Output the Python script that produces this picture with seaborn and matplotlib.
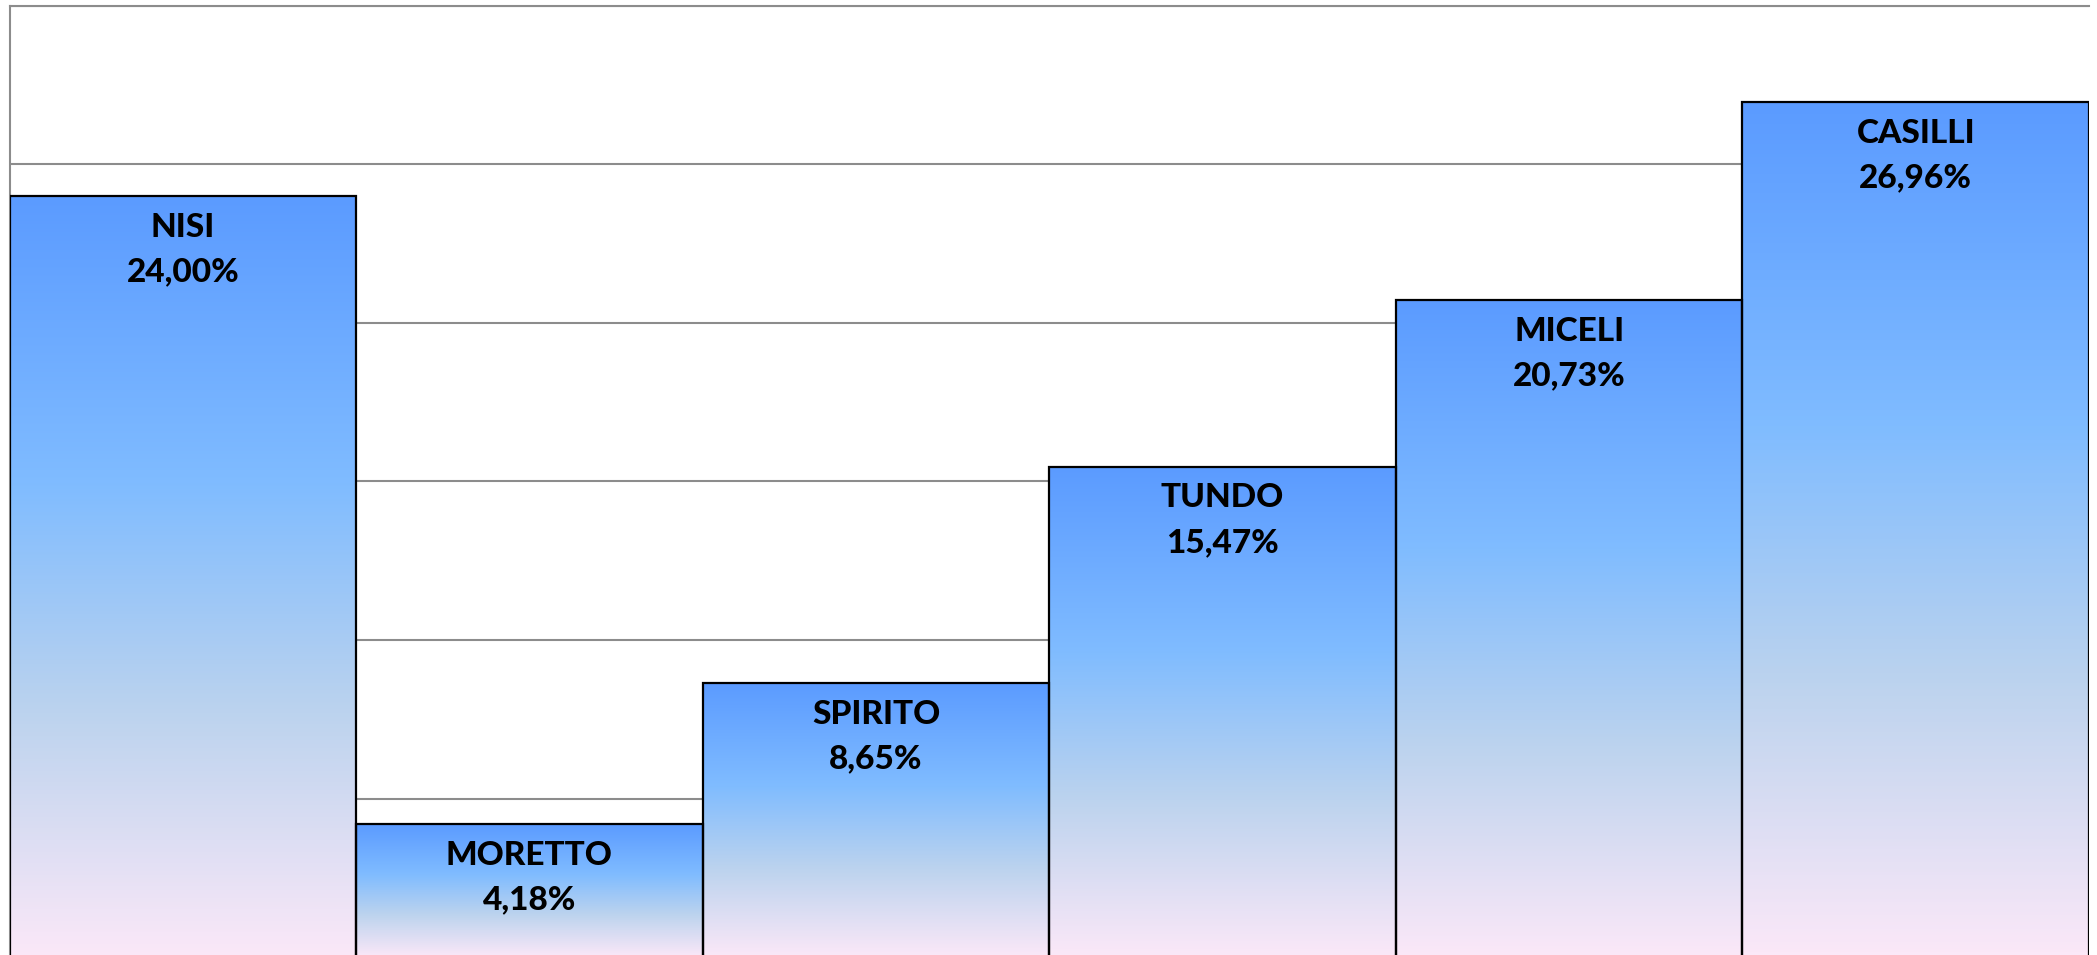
import numpy as np
import matplotlib
matplotlib.use("Agg")
import matplotlib.pyplot as plt
from matplotlib.colors import LinearSegmentedColormap
import seaborn as sns

# --- Data ---
candidates = ["NISI", "MORETTO", "SPIRITO", "TUNDO", "MICELI", "CASILLI"]
shares = [24.00, 4.18, 8.65, 15.47, 20.73, 26.96]

# --- Style ---
sns.set_theme(style="white")
plt.rcParams["font.family"] = ["Lato", "DejaVu Sans"]

grad = LinearSegmentedColormap.from_list(
    "daybreak",
    [(0.0, "#5b9bff"), (0.38, "#80bcff"), (0.68, "#bcd3ee"), (1.0, "#fbe8f8")],
)

fig = plt.figure(figsize=(20.97, 9.55), dpi=100)
ax = fig.add_axes([9.5 / 2097, -2 / 955, (2089 - 9.5) / 2097, (957 - 6) / 955])

sns.barplot(x=candidates, y=shares, width=1.0, ax=ax, color="#5b9bff",
            edgecolor="black", linewidth=1.6, zorder=3)

# gradient fill, one full gradient per bar
g = np.linspace(0, 1, 256).reshape(-1, 1)
for p in ax.patches:
    x0, y0 = p.get_x(), p.get_y()
    w, h = p.get_width(), p.get_height()
    im = ax.imshow(g, cmap=grad, aspect="auto", extent=(x0, x0 + w, y0, y0 + h),
                   origin="upper", zorder=3.5, interpolation="bilinear")
    im.set_clip_path(p)
    p.set_facecolor("none")
    p.set_zorder(4)

ax.set_xlim(-0.5, 5.5)
ax.set_ylim(0, 30)
ax.set_yticks(np.arange(0, 31, 5))
ax.yaxis.grid(True, color="#8c8c8c", linewidth=1.5, zorder=0)
ax.set_axisbelow(True)
ax.tick_params(left=False, bottom=False, labelleft=False, labelbottom=False)
ax.set_xlabel("")
ax.set_ylabel("")

for side in ["right", "bottom"]:
    ax.spines[side].set_visible(False)
for side in ["top", "left"]:
    ax.spines[side].set_color("#8c8c8c")
    ax.spines[side].set_linewidth(1.5)

# --- Labels inside bars ---
for i, (name, val) in enumerate(zip(candidates, shares)):
    ax.annotate(name, (i, val), xytext=(0, -22.5), textcoords="offset points",
                ha="center", va="center", fontsize=24, fontweight="black",
                color="black", zorder=6)
    ax.annotate(f"{val:.2f}%".replace(".", ","), (i, val), xytext=(0, -54.5),
                textcoords="offset points", ha="center", va="center",
                fontsize=24, fontweight="black", color="black", zorder=6)

fig.savefig("out.png", dpi=100)
